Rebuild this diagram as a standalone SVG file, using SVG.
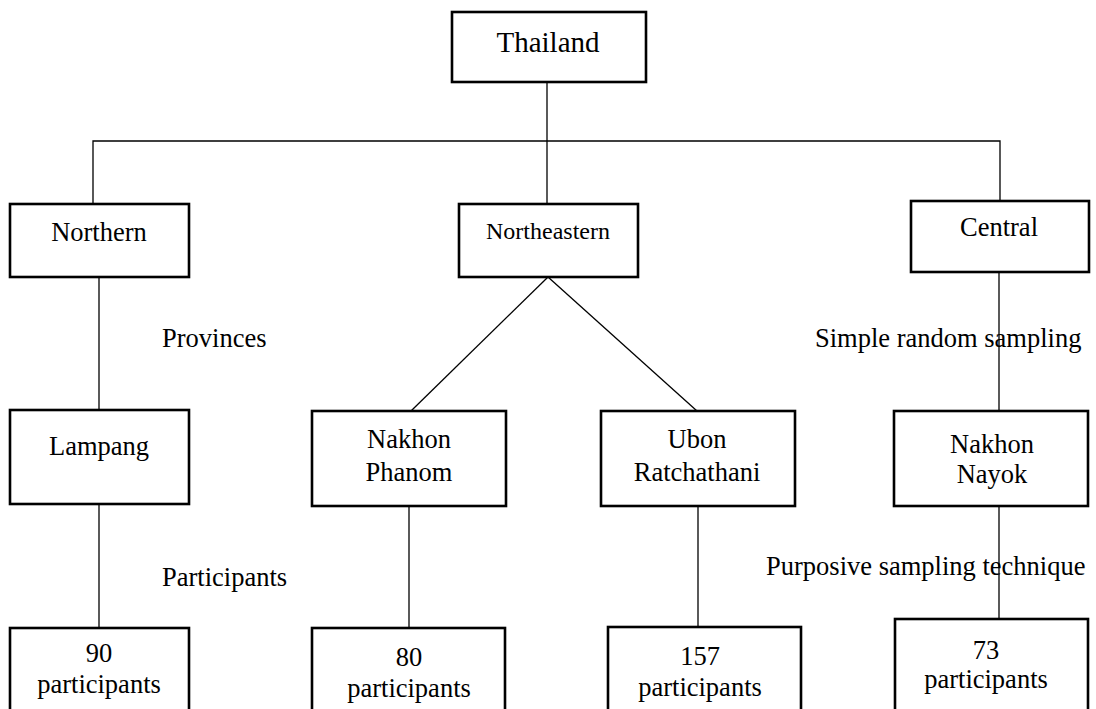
<svg xmlns="http://www.w3.org/2000/svg" width="1096" height="709" viewBox="0 0 1096 709">
  <style>
    .box { fill: #ffffff; stroke: #000000; stroke-width: 2.6; }
    .line { stroke: #000000; stroke-width: 1.3; fill: none; }
    text { font-family: "Liberation Serif", "Times New Roman", serif; font-size: 26.5px; fill: #000000; }
    .c { text-anchor: middle; }
  </style>
  <rect width="1096" height="709" fill="#ffffff"/>

  <g id="connectors">
    <line class="line" x1="547" y1="82" x2="547" y2="141"/>
    <polyline class="line" points="93,204 93,141 1000,141 1000,201"/>
    <line class="line" x1="547" y1="141" x2="547" y2="204"/>
    <line class="line" x1="99" y1="277" x2="99" y2="410"/>
    <line class="line" x1="548" y1="277" x2="411" y2="411"/>
    <line class="line" x1="548" y1="277" x2="697" y2="411"/>
    <line class="line" x1="999" y1="272" x2="999" y2="411"/>
    <line class="line" x1="99" y1="504" x2="99" y2="628"/>
    <line class="line" x1="409" y1="506" x2="409" y2="628"/>
    <line class="line" x1="698" y1="506" x2="698" y2="627"/>
    <line class="line" x1="999" y1="506" x2="999" y2="619"/>
  </g>

  <g id="labels">
    <text x="162" y="347">Provinces</text>
    <text x="815" y="347">Simple random sampling</text>
    <text x="162" y="586">Participants</text>
    <text x="766" y="575">Purposive sampling technique</text>
  </g>

  <g id="thailand">
    <rect class="box" x="452" y="12" width="194" height="70"/>
    <text class="c" x="548" y="52" style="font-size:29px">Thailand</text>
  </g>

  <g id="northern">
    <rect class="box" x="10" y="204" width="179" height="73"/>
    <text class="c" x="99" y="241">Northern</text>
  </g>

  <g id="northeastern">
    <rect class="box" x="459" y="204" width="179" height="73"/>
    <text class="c" x="548" y="239" style="font-size:24px">Northeastern</text>
  </g>

  <g id="central">
    <rect class="box" x="911" y="201" width="178" height="71"/>
    <text class="c" x="999" y="236">Central</text>
  </g>

  <g id="lampang">
    <rect class="box" x="10" y="410" width="179" height="94"/>
    <text class="c" x="99" y="455">Lampang</text>
  </g>

  <g id="nakhon-phanom">
    <rect class="box" x="312" y="411" width="194" height="95"/>
    <text class="c" x="409" y="448">Nakhon</text>
    <text class="c" x="409" y="481">Phanom</text>
  </g>

  <g id="ubon-ratchathani">
    <rect class="box" x="601" y="411" width="194" height="95"/>
    <text class="c" x="697" y="448">Ubon</text>
    <text class="c" x="697" y="481">Ratchathani</text>
  </g>

  <g id="nakhon-nayok">
    <rect class="box" x="894" y="411" width="194" height="95"/>
    <text class="c" x="992" y="453">Nakhon</text>
    <text class="c" x="992" y="483">Nayok</text>
  </g>

  <g id="count-lampang">
    <rect class="box" x="10" y="628" width="179" height="90"/>
    <text class="c" x="99" y="662">90</text>
    <text class="c" x="99" y="693">participants</text>
  </g>

  <g id="count-nakhon-phanom">
    <rect class="box" x="312" y="628" width="193" height="90"/>
    <text class="c" x="409" y="666">80</text>
    <text class="c" x="409" y="697">participants</text>
  </g>

  <g id="count-ubon-ratchathani">
    <rect class="box" x="608" y="627" width="193" height="90"/>
    <text class="c" x="700" y="665">157</text>
    <text class="c" x="700" y="696">participants</text>
  </g>

  <g id="count-nakhon-nayok">
    <rect class="box" x="895" y="619" width="193" height="99"/>
    <text class="c" x="986" y="659">73</text>
    <text class="c" x="986" y="688">participants</text>
  </g>
</svg>
